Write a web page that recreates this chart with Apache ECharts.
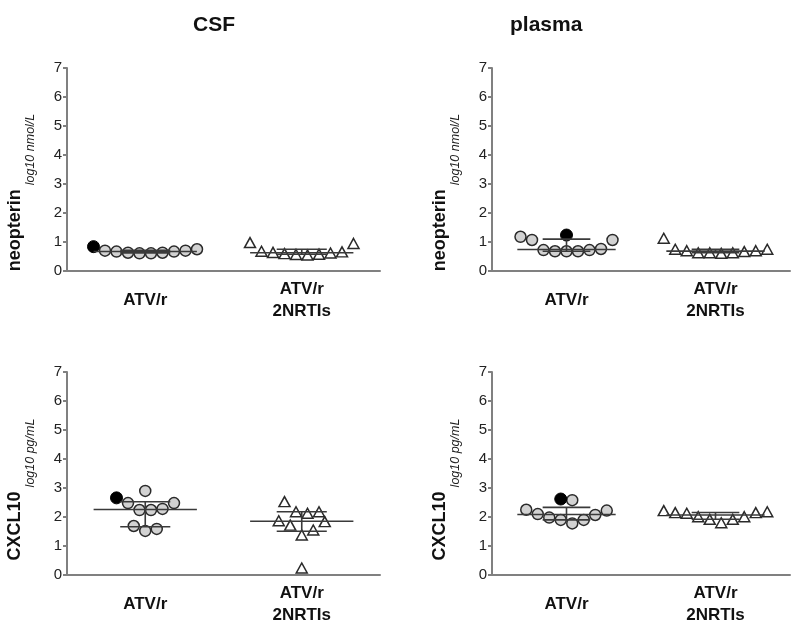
<!DOCTYPE html>
<html>
<head>
<meta charset="utf-8">
<title>CSF / plasma</title>
<script src="https://cdn.jsdelivr.net/npm/echarts@6/dist/echarts.min.js"></script>
<style>
  html, body { margin: 0; background: #fff; }
  #main { width: 800px; height: 638px; }
</style>
</head>
<body>
<div id="main"></div>
<script>
// categories
var groups = ['ATV/r', 'ATV/r\n2NRTIs'];

// neopterin, CSF (log10 nmol/L)
var csfNeoATV = [0.75, 0.70, 0.67, 0.63, 0.61, 0.61, 0.63, 0.67, 0.70];
var csfNeoATVBlack = 0.84;
var csfNeoNRTI = [0.98, 0.66, 0.64, 0.60, 0.57, 0.55, 0.58, 0.62, 0.68, 0.95];

// neopterin, plasma
var plasmaNeoATV = [1.18, 1.07, 0.72, 0.68, 0.68, 0.68, 0.72, 0.76, 1.07];
var plasmaNeoATVBlack = 1.24;
var plasmaNeoNRTI = [0.75, 0.70, 0.63, 0.63, 0.61, 0.63, 0.67, 0.70, 0.75, 1.13];

// CXCL10, CSF (log10 pg/mL)
var csfCxATV = [2.90, 2.48, 2.24, 2.24, 2.28, 2.48, 1.69, 1.52, 1.59];
var csfCxATVBlack = 2.66;
var csfCxNRTI = [2.53, 2.18, 2.13, 2.18, 1.84, 1.87, 1.55, 1.72, 1.38, 0.24];

// CXCL10, plasma
var plasmaCxATV = [2.22, 2.07, 1.90, 1.78, 1.90, 1.98, 2.10, 2.25, 2.58];
var plasmaCxATVBlack = 2.62;
var plasmaCxNRTI = [2.15, 2.15, 2.01, 1.92, 1.80, 1.92, 2.01, 2.13, 2.18, 2.22];

var FONT = '"Liberation Sans", Arial, sans-serif';
var ROW_SPAN = 0.55;  // values closer than this share one row of the swarm
var STEP = 11.5;      // px between neighbours in a row

// quartiles the Prism way, position (n+1)p
function quantile(vals, p) {
    var s = vals.slice().sort(function (a, b) { return a - b; });
    var pos = (s.length + 1) * p;
    var lo = Math.floor(pos);
    if (lo < 1) return s[0];
    if (lo >= s.length) return s[s.length - 1];
    return s[lo - 1] + (pos - lo) * (s[lo] - s[lo - 1]);
}

// column scatter: rows of close values, lowest in the middle, then right / left
function swarm(vals) {
    var idx = vals.map(function (v, i) { return i; })
        .sort(function (a, b) { return vals[a] - vals[b]; });
    var slots = [];
    var i = 0;
    while (i < idx.length) {
        var start = vals[idx[i]], row = [];
        while (i < idx.length && vals[idx[i]] - start <= ROW_SPAN) row.push(idx[i++]);
        var order = [], k;
        if (row.length % 2) {
            order.push(0);
            for (k = 1; order.length < row.length; k++) {
                order.push(k);
                if (order.length < row.length) order.push(-k);
            }
        } else {
            for (k = 0.5; order.length < row.length; k++) {
                order.push(k);
                order.push(-k);
            }
        }
        row.forEach(function (p, j) { slots[p] = order[j]; });
    }
    return slots;
}

var panels = [
    { atv: csfNeoATV, black: csfNeoATVBlack, nrti: csfNeoNRTI, name: 'neopterin', unit: 'log10 nmol/L', shift: 46 },
    { atv: plasmaNeoATV, black: plasmaNeoATVBlack, nrti: plasmaNeoNRTI, name: 'neopterin', unit: 'log10 nmol/L', shift: 46 },
    { atv: csfCxATV, black: csfCxATVBlack, nrti: csfCxNRTI, name: 'CXCL10', unit: 'log10 pg/mL', shift: 32 },
    { atv: plasmaCxATV, black: plasmaCxATVBlack, nrti: plasmaCxNRTI, name: 'CXCL10', unit: 'log10 pg/mL', shift: 32 }
];

var grids = [
    { left: 67, top: 68, width: 313, height: 203 },
    { left: 492, top: 68, width: 298, height: 203 },
    { left: 67, top: 372, width: 313, height: 203 },
    { left: 492, top: 372, width: 298, height: 203 }
];

var axisGray = { color: '#808080', width: 2 };
var xAxes = [], yAxes = [], series = [];

panels.forEach(function (p, n) {
    xAxes.push({
        type: 'category', gridIndex: n, data: groups,
        axisLine: { lineStyle: axisGray },
        axisTick: { alignWithLabel: true, length: 4, lineStyle: axisGray },
        axisLabel: {
            margin: 29, verticalAlign: 'middle', lineHeight: 22,
            fontFamily: FONT, fontSize: 17, fontWeight: 'bold', color: '#111'
        },
        splitLine: { show: false }
    });
    yAxes.push({
        type: 'value', gridIndex: n, min: 0, max: 7, interval: 1,
        axisLine: { show: true, lineStyle: axisGray },
        axisTick: { show: true, length: 4, lineStyle: axisGray },
        axisLabel: { margin: 5, fontFamily: FONT, fontSize: 15, color: '#222' },
        splitLine: { show: false },
        name: '{a|' + p.name + '}{b|' + p.unit + '}',
        nameLocation: 'middle', nameGap: 30,
        nameTextStyle: {
            padding: [0, p.shift, 0, 0],
            rich: {
                a: { fontFamily: FONT, fontSize: 18, fontWeight: 'bold', color: '#111', lineHeight: 20, verticalAlign: 'top' },
                b: { fontFamily: FONT, fontSize: 12.5, fontStyle: 'italic', color: '#222', lineHeight: 31, verticalAlign: 'bottom', padding: [0, 0, 0, 4] }
            }
        }
    });

    var all = p.atv.concat([p.black]);
    var slotsA = swarm(all);
    var slotsB = swarm(p.nrti);

    series.push({
        type: 'scatter', xAxisIndex: n, yAxisIndex: n, z: 2,
        symbol: 'circle', symbolSize: 11,
        itemStyle: { color: '#d2d2d2', borderColor: '#2a2a2a', borderWidth: 1.5, opacity: 1 },
        data: p.atv.map(function (v, i) {
            return { value: [0, v], symbolOffset: [slotsA[i] * STEP, 0] };
        }),
        silent: true
    });
    series.push({
        type: 'scatter', xAxisIndex: n, yAxisIndex: n, z: 2,
        symbol: 'circle', symbolSize: 12,
        itemStyle: { color: '#000', borderColor: '#000', borderWidth: 1, opacity: 1 },
        data: [{ value: [0, p.black], symbolOffset: [slotsA[all.length - 1] * STEP, 0] }],
        silent: true
    });
    series.push({
        type: 'scatter', xAxisIndex: n, yAxisIndex: n, z: 2,
        symbol: 'triangle', symbolSize: [11, 10],
        itemStyle: { color: '#fff', borderColor: '#2a2a2a', borderWidth: 1.5, opacity: 1 },
        data: p.nrti.map(function (v, i) {
            return { value: [1, v], symbolOffset: [slotsB[i] * STEP, 0] };
        }),
        silent: true
    });

    // median with interquartile range
    var stats = [all, p.nrti].map(function (vals, c) {
        return [c, quantile(vals, 0.25), quantile(vals, 0.5), quantile(vals, 0.75)];
    });
    series.push({
        type: 'custom', xAxisIndex: n, yAxisIndex: n, z: 3, silent: true,
        encode: { x: 0, y: [1, 2, 3] },
        data: stats,
        renderItem: function (params, api) {
            var c = api.value(0);
            var q1 = api.coord([c, api.value(1)]);
            var md = api.coord([c, api.value(2)]);
            var q3 = api.coord([c, api.value(3)]);
            var bw = api.size([1, 0])[0];
            var longHalf = bw * 0.33, shortHalf = bw * 0.16;
            var st = { stroke: '#3a3a3a', lineWidth: 1.6 };
            function seg(x1, y1, x2, y2) {
                return { type: 'line', shape: { x1: x1, y1: y1, x2: x2, y2: y2 }, style: st };
            }
            return {
                type: 'group',
                children: [
                    seg(md[0] - longHalf, md[1], md[0] + longHalf, md[1]),
                    seg(q1[0] - shortHalf, q1[1], q1[0] + shortHalf, q1[1]),
                    seg(q3[0] - shortHalf, q3[1], q3[0] + shortHalf, q3[1]),
                    seg(md[0], q1[1], md[0], q3[1])
                ]
            };
        }
    });
});

var chart = echarts.init(document.getElementById('main'), null, { renderer: 'canvas' });
chart.setOption({
    animation: false,
    backgroundColor: '#fff',
    title: [
        { text: 'CSF', left: 188, top: 10, textStyle: { fontFamily: FONT, fontSize: 21, fontWeight: 'bold', color: '#111' } },
        { text: 'plasma', left: 505, top: 10, textStyle: { fontFamily: FONT, fontSize: 21, fontWeight: 'bold', color: '#111' } }
    ],
    grid: grids,
    xAxis: xAxes,
    yAxis: yAxes,
    series: series
});
</script>
</body>
</html>
